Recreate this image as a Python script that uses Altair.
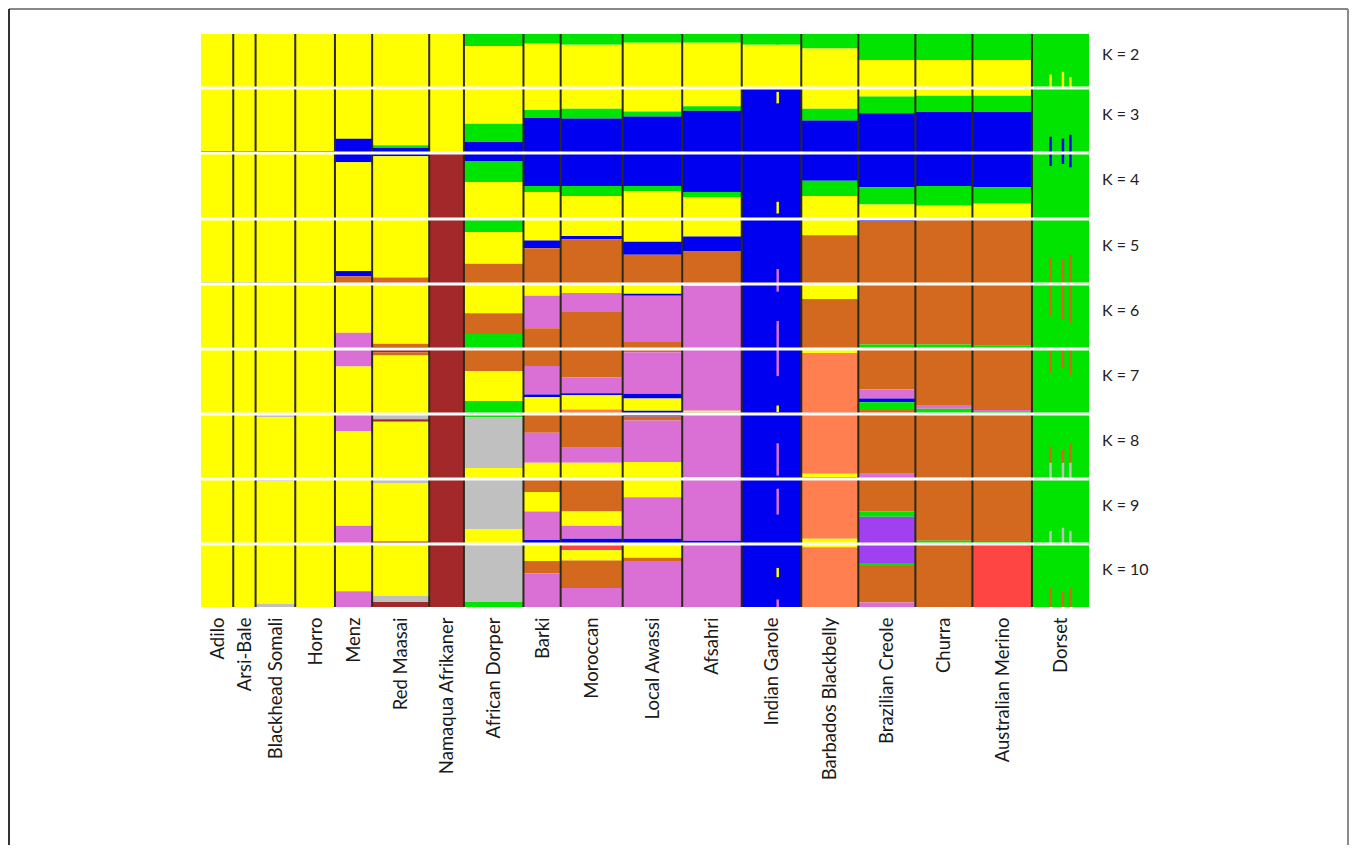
import altair as alt
import pandas as pd

# ---------------- data ----------------
populations = ["Adilo", "Arsi-Bale", "Blackhead Somali", "Horro", "Menz", "Red Maasai",
               "Namaqua Afrikaner", "African Dorper", "Barki", "Moroccan", "Local Awassi",
               "Afsahri", "Indian Garole", "Barbados Blackbelly", "Brazilian Creole",
               "Churra", "Australian Merino", "Dorset"]
sample_sizes = [13, 9, 16, 16, 15, 23, 14, 24, 15, 25, 24, 24, 24, 23, 23, 23, 24, 23]
k_values = [2, 3, 4, 5, 6, 7, 8, 9, 10]
k_labels = ["K = 2", "K = 3", "K = 4", "K = 5", "K =  6", "K = 7", "K = 8", "K = 9", "K = 10"]

cluster_names = ["Y", "G", "B", "R", "O", "P", "S", "Gr", "V", "Rd"]
cluster_colors = ["#FFFF00", "#00E400", "#0000F0", "#A3282A", "#D2691E", "#DA70D6",
                  "#FF7F50", "#C0C0C0", "#A040F0", "#FF4444"]

# mean membership per population, bands listed top -> bottom
K2 = [[("Y", 1)], [("Y", 1)], [("Y", 1)], [("Y", 1)], [("Y", 1)], [("Y", 1)], [("Y", 1)],
      [("G", .22), ("Y", .78)], [("G", .18), ("Y", .82)], [("G", .20), ("Y", .80)],
      [("G", .16), ("Y", .84)], [("G", .16), ("Y", .84)], [("G", .20), ("Y", .80)],
      [("G", .27), ("Y", .73)], [("G", .48), ("Y", .52)], [("G", .48), ("Y", .52)],
      [("G", .48), ("Y", .52)], [("G", 1)]]
K3 = [[("Y", .97), ("R", .03)], [("Y", .97), ("R", .03)], [("Y", .97), ("R", .03)],
      [("Y", .97), ("R", .03)], [("Y", .78), ("B", .22)], [("Y", .88), ("G", .04), ("B", .08)],
      [("Y", 1)], [("Y", .55), ("G", .28), ("B", .17)], [("Y", .34), ("G", .12), ("B", .54)],
      [("Y", .32), ("G", .15), ("B", .53)], [("Y", .36), ("G", .08), ("B", .56)],
      [("Y", .28), ("G", .07), ("B", .65)], [("B", 1)], [("Y", .32), ("G", .18), ("B", .50)],
      [("Y", .13), ("G", .26), ("B", .61)], [("Y", .12), ("G", .25), ("B", .63)],
      [("Y", .12), ("G", .25), ("B", .63)], [("G", 1)]]
K4 = [[("Y", 1)], [("Y", 1)], [("Y", 1)], [("Y", 1)], [("B", .14), ("Y", .86)],
      [("B", .05), ("Y", .95)], [("R", 1)], [("B", .12), ("G", .32), ("Y", .56)],
      [("B", .50), ("G", .09), ("Y", .41)], [("B", .50), ("G", .15), ("Y", .35)],
      [("B", .50), ("G", .08), ("Y", .42)], [("B", .59), ("G", .08), ("Y", .33)], [("B", 1)],
      [("B", .42), ("G", .23), ("Y", .35)], [("B", .52), ("G", .26), ("Y", .22)],
      [("B", .50), ("G", .30), ("Y", .20)], [("B", .52), ("G", .25), ("Y", .23)], [("G", 1)]]
K5 = [[("Y", .98), ("B", .02)], [("Y", .98), ("B", .02)], [("Y", .98), ("B", .02)],
      [("Y", .98), ("B", .02)], [("Y", .80), ("B", .08), ("O", .12)], [("Y", .90), ("O", .10)],
      [("R", 1)], [("G", .20), ("Y", .49), ("O", .31)], [("Y", .33), ("B", .12), ("O", .55)],
      [("Y", .26), ("B", .05), ("O", .69)], [("Y", .35), ("B", .20), ("O", .45)],
      [("Y", .27), ("B", .23), ("O", .50)], [("B", 1)], [("Y", .25), ("O", .75)],
      [("B", .03), ("O", .97)], [("O", 1)], [("O", 1)], [("G", 1)]]
K6 = [[("Y", 1)], [("Y", 1)], [("Y", 1)], [("Y", 1)], [("Y", .75), ("P", .25)],
      [("Y", .92), ("O", .05), ("R", .03)], [("R", 1)], [("Y", .45), ("O", .32), ("G", .23)],
      [("Y", .18), ("P", .50), ("O", .32)], [("Y", .14), ("P", .29), ("O", .57)],
      [("Y", .15), ("B", .03), ("P", .70), ("O", .12)], [("Y", .03), ("P", .97)], [("B", 1)],
      [("Y", .23), ("O", .77)], [("O", .93), ("G", .07)], [("O", .93), ("G", .07)],
      [("O", .95), ("G", .05)], [("G", 1)]]
K7 = [[("Y", 1)], [("Y", 1)], [("Y", 1)], [("Y", 1)], [("P", .27), ("Y", .73)],
      [("R", .05), ("O", .05), ("Y", .90)], [("R", 1)], [("O", .34), ("Y", .46), ("G", .20)],
      [("O", .26), ("P", .44), ("B", .04), ("Y", .26)],
      [("O", .44), ("P", .24), ("B", .03), ("Y", .22), ("S", .07)],
      [("O", .05), ("P", .64), ("B", .07), ("Y", .19), ("B", .05)],
      [("P", .95), ("Y", .03), ("B", .02)], [("B", 1)], [("Y", .06), ("S", .94)],
      [("O", .62), ("P", .14), ("B", .06), ("G", .12), ("O", .06)],
      [("O", .86), ("P", .06), ("G", .08)], [("O", .94), ("P", .03), ("G", .03)], [("G", 1)]]
K8 = [[("Y", 1)], [("Y", 1)], [("Gr", .05), ("Y", .95)], [("Y", 1)], [("P", .26), ("Y", .74)],
      [("Gr", .08), ("R", .04), ("Y", .88)], [("R", 1)], [("G", .05), ("Gr", .78), ("Y", .17)],
      [("O", .29), ("P", .46), ("Y", .25)], [("O", .52), ("P", .23), ("Y", .25)],
      [("B", .04), ("O", .06), ("P", .64), ("Y", .26)], [("P", .97), ("Y", .03)], [("B", 1)],
      [("S", .92), ("Y", .05), ("O", .03)], [("O", .92), ("P", .08)], [("O", .97), ("P", .03)],
      [("O", .98), ("Y", .02)], [("G", 1)]]
K9 = [[("Y", 1)], [("Y", 1)], [("Gr", .04), ("Y", .96)], [("Y", 1)], [("Y", .72), ("P", .28)],
      [("Gr", .06), ("Y", .90), ("R", .04)], [("R", 1)], [("Gr", .77), ("Y", .23)],
      [("O", .20), ("Y", .30), ("P", .44), ("B", .06)],
      [("O", .50), ("Y", .22), ("P", .20), ("B", .08)], [("Y", .28), ("P", .64), ("B", .08)],
      [("P", .95), ("B", .05)], [("B", 1)], [("S", .92), ("Y", .08)],
      [("O", .50), ("G", .08), ("V", .42)], [("O", .95), ("G", .05)], [("O", .97), ("G", .03)],
      [("G", 1)]]
K10 = [[("Y", 1)], [("Y", 1)], [("Y", .95), ("Gr", .05)], [("Y", 1)], [("Y", .75), ("P", .25)],
       [("Y", .82), ("Gr", .10), ("R", .08)], [("R", 1)], [("Gr", .92), ("G", .08)],
       [("Y", .27), ("O", .20), ("P", .53)], [("Rd", .10), ("Y", .16), ("O", .44), ("P", .30)],
       [("Y", .22), ("O", .05), ("P", .73)], [("P", 1)], [("B", 1)], [("Y", .05), ("S", .95)],
       [("V", .30), ("G", .05), ("O", .58), ("P", .07)], [("O", 1)], [("Rd", 1)], [("G", 1)]]
memberships = [K2, K3, K4, K5, K6, K7, K8, K9, K10]

# a few admixed individuals that stand out as thin stripes (one list entry per K)
garole_ind14 = [[("G", .20), ("Y", .80)], [("B", .06), ("Y", .18), ("B", .76)],
                [("B", .74), ("Y", .18), ("B", .08)], [("B", .77), ("P", .23)],
                [("P", .12), ("B", .45), ("P", .43)], [("P", .42), ("B", .45), ("Y", .10), ("B", .03)],
                [("B", .45), ("P", .50), ("B", .05)], [("B", .15), ("P", .40), ("B", .45)],
                [("B", .38), ("Y", .15), ("B", .35), ("P", .12)]]
dorset_ind7 = [[("G", .75), ("Y", .25)], [("G", .75), ("B", .25)], [("B", .20), ("G", .80)],
               [("G", .60), ("O", .40)], [("O", .50), ("G", .50)], [("O", .37), ("G", .63)],
               [("G", .50), ("O", .25), ("Gr", .25)], [("G", .80), ("Gr", .20)],
               [("G", .70), ("O", .30)]]
dorset_ind12 = [[("G", .70), ("Y", .30)], [("G", .78), ("B", .22)], [("B", .17), ("G", .83)],
                [("G", .62), ("O", .38)], [("O", .55), ("G", .45)], [("O", .30), ("G", .70)],
                [("G", .55), ("O", .20), ("Gr", .25)], [("G", .75), ("Gr", .25)],
                [("G", .75), ("O", .25)]]
dorset_ind15 = [[("G", .80), ("Y", .20)], [("G", .72), ("B", .28)], [("B", .22), ("G", .78)],
                [("G", .55), ("O", .45)], [("O", .60), ("G", .40)], [("O", .40), ("G", .60)],
                [("G", .45), ("O", .30), ("Gr", .25)], [("G", .80), ("Gr", .20)],
                [("G", .70), ("O", .30)]]
individuals = [("Indian Garole", 14, garole_ind14), ("Dorset", 7, dorset_ind7),
               ("Dorset", 12, dorset_ind12), ("Dorset", 15, dorset_ind15)]

# ---------------- layout (not data) ----------------
row_heights = [54, 65, 66, 65, 65, 65, 65, 65, 63]
PLOT_W = 888
PLOT_H = sum(row_heights)

# ---------------- build tables ----------------
pop_start = [0]
for n in sample_sizes:
    pop_start.append(pop_start[-1] + n)
total_n = pop_start[-1]
row_top = [0]
for h in row_heights:
    row_top.append(row_top[-1] + h)


def stack(recs, k, ki, x0, x1, bands, label):
    top, h = row_top[ki], row_heights[ki]
    tot = sum(f for _, f in bands)
    acc = 0.0
    for cl, f in bands:
        f = f / tot
        recs.append(dict(K=k, population=label, cluster=cl, x=x0, x2=x1,
                         y=top + acc * h, y2=top + (acc + f) * h, q=round(f, 3)))
        acc += f


recs = []
for ki, k in enumerate(k_values):
    for pi, bands in enumerate(memberships[ki]):
        stack(recs, k, ki, pop_start[pi], pop_start[pi + 1], bands, populations[pi])
for pop, idx, per_k in individuals:
    pi = populations.index(pop)
    x0 = pop_start[pi] + idx
    for ki, k in enumerate(k_values):
        stack(recs, k, ki, x0, x0 + 1, per_k[ki], pop)
bars = pd.DataFrame(recs)

centers = [pop_start[i] + sample_sizes[i] / 2 for i in range(len(populations))]
names_js = "[" + ",".join("'%s'" % p for p in populations) + "]"
centers_js = "[" + ",".join(repr(float(c)) for c in centers) + "]"
label_expr = names_js + "[indexof(" + centers_js + ", datum.value)]"

xscale = alt.Scale(domain=[0, total_n], nice=False, zero=False)
yscale = alt.Scale(domain=[0, PLOT_H], nice=False, zero=False, reverse=True)

rects = alt.Chart(bars).mark_rect(strokeWidth=0).encode(
    x=alt.X("x:Q", scale=xscale,
            axis=alt.Axis(values=centers, labelExpr=label_expr, labelAngle=270,
                          labelAlign="right", labelBaseline="middle", labelFont="Lato",
                          labelFontSize=18.5, labelColor="#1a1a1a", ticks=False, domain=False,
                          grid=False, title=None, labelPadding=10, labelOverlap=False,
                          labelFlush=False)),
    x2="x2:Q",
    y=alt.Y("y:Q", scale=yscale, axis=None),
    y2="y2:Q",
    color=alt.Color("cluster:N", scale=alt.Scale(domain=cluster_names, range=cluster_colors),
                    legend=None),
)

vlines = alt.Chart(pd.DataFrame({"x": pop_start[1:-1]})).mark_rule(
    color="#2a2a1a", strokeWidth=2).encode(x=alt.X("x:Q", scale=xscale))

hlines = alt.Chart(pd.DataFrame({"y": row_top[1:-1]})).mark_rule(
    color="white", strokeWidth=3).encode(y=alt.Y("y:Q", scale=yscale))

klab = pd.DataFrame({"label": k_labels,
                     "yc": [(row_top[i] + row_top[i + 1]) / 2 for i in range(len(k_values))]})
ktext = alt.Chart(klab).mark_text(align="left", baseline="middle", font="Lato", fontSize=16,
                                  color="#222222", dy=-6).encode(
    x=alt.value(PLOT_W + 13), y=alt.Y("yc:Q", scale=yscale), text="label:N")

frame_top = alt.Chart(pd.DataFrame({"a": [0]})).mark_rule(color="#111111", strokeWidth=1).encode(
    x=alt.value(-192), x2=alt.value(1147), y=alt.value(-25))
frame_left = alt.Chart(pd.DataFrame({"a": [0]})).mark_rule(color="#333333", strokeWidth=2).encode(
    x=alt.value(-192), y=alt.value(-25), y2=alt.value(811))
frame_right = alt.Chart(pd.DataFrame({"a": [0]})).mark_rule(color="#8a8a8a", strokeWidth=2).encode(
    x=alt.value(1147), y=alt.value(-25), y2=alt.value(811))

chart = alt.layer(rects, vlines, hlines, ktext, frame_top, frame_left, frame_right).properties(
    width=PLOT_W, height=PLOT_H, padding=0, background="white"
).configure_view(strokeWidth=0)

chart.save("out.html", embed_options={"renderer": "svg", "actions": False})
